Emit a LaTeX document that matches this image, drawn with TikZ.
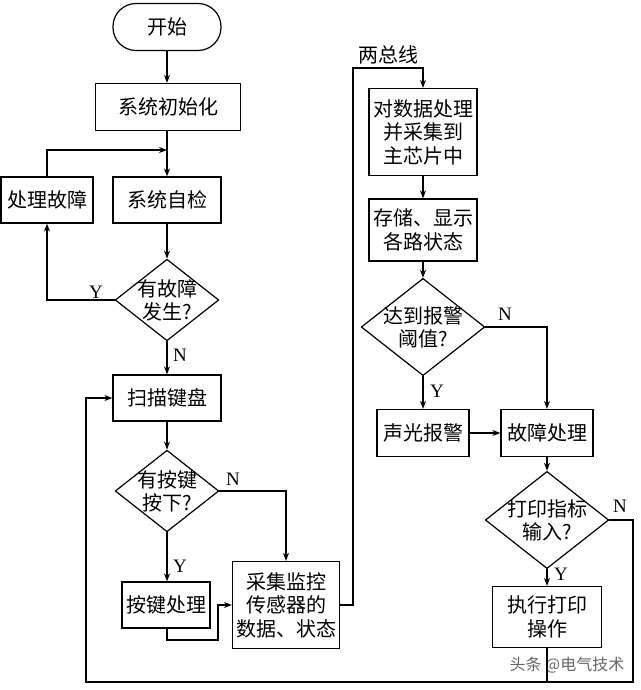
\documentclass[tikz,border=0pt]{standalone}
\usepackage{fontspec}
\setmainfont{Liberation Serif}
\newfontfamily\cjk{Noto Sans CJK SC}
\usetikzlibrary{arrows.meta,shapes.geometric,positioning}
\tikzset{
blk/.style={rectangle,draw=black,line width=1.2pt,inner sep=0pt,align=center,font=\cjk\fontsize{20}{23.5}\selectfont},
term/.style={blk,rounded corners=23pt},
dec/.style={diamond,aspect=1.27,draw=black,line width=1.2pt,inner sep=-2pt,align=center,font=\cjk\fontsize{20}{23}\selectfont},
yn/.style={inner sep=0pt,font=\fontsize{19}{19}\selectfont},
flow/.style={line width=1.2pt,-{Stealth[length=8pt,width=6pt]}},
wire/.style={line width=1.2pt}
}
\begin{document}
\begin{tikzpicture}[x=1pt,y=-1pt]
\useasboundingbox (0,0) rectangle (640,690);
\node at (167,27)[term,minimum width=108pt,minimum height=47pt](start){开始};
\node at (168,107)[blk,minimum width=145pt,minimum height=47pt](init){系统初始化};
\node at (167,200)[blk,minimum width=108pt,minimum height=46pt](check){系统自检};
\node at (47,200)[blk,minimum width=92pt,minimum height=46pt](fix){处理故障};
\node at (167,300)[dec](q1){有故障\\发生?};
\node at (167,398)[blk,minimum width=108pt,minimum height=46pt](scan){扫描键盘};
\node at (167,491)[dec](q2){有按键\\按下?};
\node at (166,605)[blk,minimum width=88pt,minimum height=46pt](key){按键处理};
\node at (286,605)[blk,minimum width=107pt,minimum height=87pt](coll){采集监控\\传感器的\\数据、状态};
\node at (423,132)[blk,minimum width=108pt,minimum height=87pt](proc){对数据处理\\并采集到\\主芯片中};
\node at (423,230)[blk,minimum width=108pt,minimum height=62pt](store){存储、显示\\各路状态};
\node at (423,327)[dec](q3){达到报警\\阈值?};
\node at (423,433)[blk,minimum width=92pt,minimum height=47pt](alarm){声光报警};
\node at (547,433)[blk,minimum width=92pt,minimum height=47pt](fault){故障处理};
\node at (547,520)[dec](q4){打印指标\\输入?};
\node at (547,617)[blk,minimum width=109pt,minimum height=61pt](prt){执行打印\\操作};
\node at (96,292)[yn](y1){Y};
\node at (180,355)[yn](n1){N};
\node at (233,479)[yn](n2){N};
\node at (180,566)[yn](y2){Y};
\node at (505,314)[yn](n3){N};
\node at (437,391)[yn](y3){Y};
\node at (620,506)[yn](n4){N};
\node at (561,574)[yn](y4){Y};
\node at (388,55)[inner sep=0pt,font=\cjk\fontsize{20}{20}\selectfont](bus){两总线};
\node at (567,665)[inner sep=0pt,text=black!60,font=\cjk\fontsize{16}{16}\selectfont](wm){头条 @电气技术};
\coordinate (m1) at (167,150);
\coordinate (k1) at (218,640);
\coordinate (b1) at (353,68);
\coordinate (r1) at (633,682);
\coordinate (r2) at (86,682);
\draw[flow](start)--(start|-init.north);
\draw[flow](start|-init.south)--(check);
\draw[flow](fix.north)|-(m1);
\draw[flow](check)--(q1);
\draw[flow](q1.west)-|(fix.south);
\draw[flow](q1)--(scan);
\draw[flow](scan)--(q2);
\draw[flow](q2.east)-|(coll.north);
\draw[flow](q2)--(q2|-key.north);
\draw[flow](q2|-key.south)|-(k1)|-(coll.west);
\draw[flow](coll.east)-|(b1)-|(proc.north);
\draw[flow](proc)--(store);
\draw[flow](store)--(q3);
\draw[flow](q3.east)-|(fault.north);
\draw[flow](q3)--(alarm);
\draw[flow](alarm)--(fault);
\draw[flow](fault)--(q4);
\draw[flow](q4)--(prt);
\draw[flow](q4.east)-|(r1)--(r2)|-(scan.west);
\draw[wire](prt.south)--(prt.south|-r1);
\end{tikzpicture}
\end{document}
